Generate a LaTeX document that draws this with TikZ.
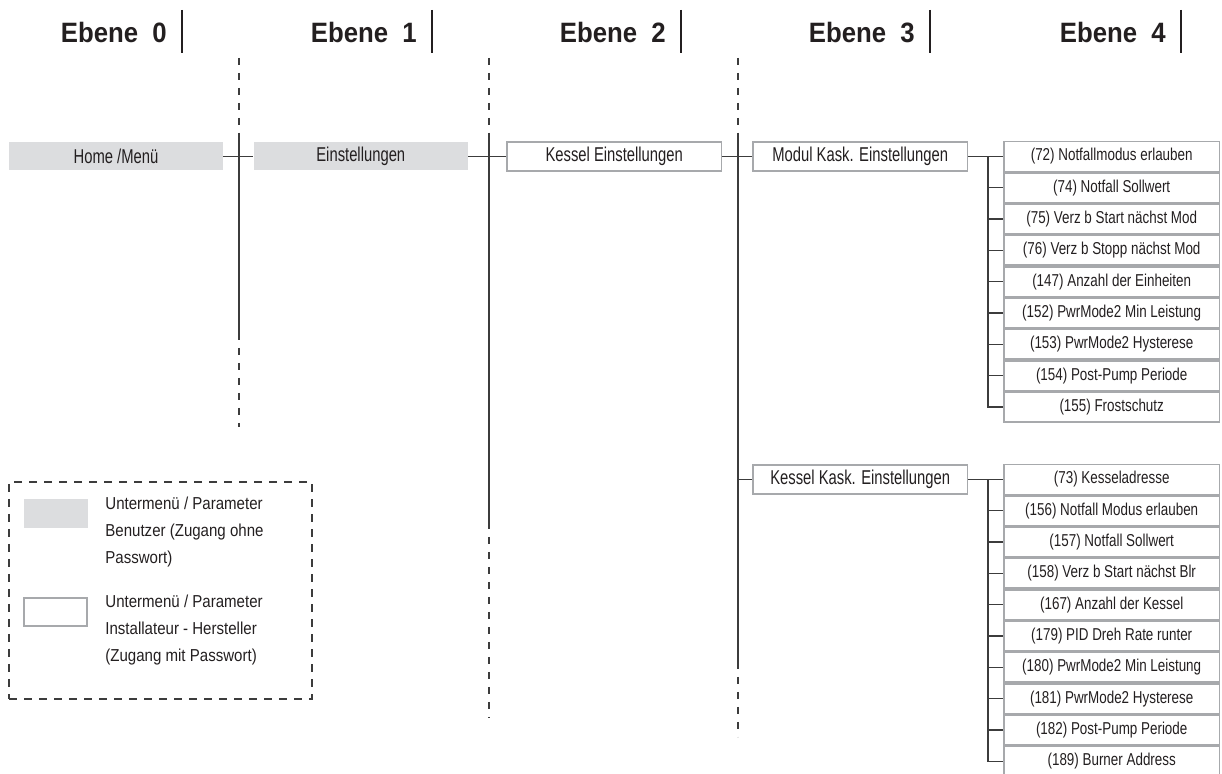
\documentclass[tikz,border=0pt]{standalone}
\usepackage{fontspec}
\setmainfont{Liberation Sans}
\newfontfamily\headfont[FakeStretch=0.92]{Liberation Sans}
\newfontfamily\boxfont[FakeStretch=0.74]{Liberation Sans}
\newfontfamily\paramfont[FakeStretch=0.78]{Liberation Sans}
\newfontfamily\legendfont[FakeStretch=0.87]{Liberation Sans}
\usetikzlibrary{positioning}

\definecolor{menugrey}{HTML}{DCDDDF}
\definecolor{framegrey}{HTML}{A7A9AC}
\definecolor{linegrey}{HTML}{3C3C3C}
\definecolor{textblack}{HTML}{231F20}

\begin{document}
\begin{tikzpicture}[
  x=0.5pt, y=-0.5pt,
  every node/.style={text=textblack},
  header/.style={
    font=\headfont\bfseries\fontsize{14}{16}\selectfont,
    inner sep=0pt,
    anchor=base east
  },
  headbar/.style={line width=1.3pt, draw=textblack},
  userbox/.style={
    fill=menugrey,
    minimum width=107pt,
    minimum height=14pt,
    inner sep=0pt,
    font=\boxfont\fontsize{10}{12}\selectfont
  },
  instbox/.style={
    draw=framegrey,
    line width=0.8pt,
    fill=white,
    minimum width=107.2pt,
    minimum height=14.7pt,
    inner sep=0pt,
    font=\boxfont\fontsize{10}{12}\selectfont
  },
  param/.style={
    draw=framegrey,
    line width=0.8pt,
    minimum width=107.7pt,
    minimum height=14.85pt,
    inner sep=0pt,
    font=\paramfont\fontsize{8.6}{10}\selectfont
  },
  link/.style={draw=linegrey, line width=0.65pt},
  trunk/.style={draw=linegrey, line width=0.8pt},
  trunkdash/.style={trunk, dash pattern=on 3.5pt off 4pt},
  legendtext/.style={
    align=left,
    anchor=west,
    inner sep=0pt,
    font=\legendfont\fontsize{8.65}{13.35}\selectfont
  }
]
\useasboundingbox (0,0) rectangle (1222,774);

% Headings
\node[header] (e0) at (167,43) {Ebene\hspace{7pt}0};
\node[header] (e1) at (417,43) {Ebene\hspace{7pt}1};
\node[header] (e2) at (666,43) {Ebene\hspace{7pt}2};
\node[header] (e3) at (915,43) {Ebene\hspace{7pt}3};
\node[header] (e4) at (1166,43) {Ebene\hspace{7pt}4};
\draw[headbar] (182,10) -- (182,53);
\draw[headbar] (432,10) -- (432,53);
\draw[headbar] (681,10) -- (681,53);
\draw[headbar] (930,10) -- (930,53);
\draw[headbar] (1181,10) -- (1181,53);

% Trunk lines
\coordinate (t1) at (239,58);
\coordinate (t2) at (489,58);
\coordinate (t3) at (738,58);
\draw[trunkdash] (t1) -- ++(0,75) coordinate (t1s);
\draw[trunk] (t1s) -- ++(0,200) coordinate (t1e);
\draw[trunkdash] (t1e) -- ++(0,94);
\draw[trunkdash] (t2) -- ++(0,75) coordinate (t2s);
\draw[trunk] (t2s) -- ++(0,389) coordinate (t2e);
\draw[trunkdash] (t2e) -- ++(0,196);
\draw[trunkdash] (t3) -- ++(0,75) coordinate (t3s);
\draw[trunk] (t3s) -- ++(0,529) coordinate (t3e);
\draw[trunkdash] (t3e) -- ++(0,75);

% Menu levels
\node[userbox] (home) at (116,156.5) {Home /Menü};
\node[userbox, right=15pt of home] (einst) {Einstellungen};
\node[instbox, right=19pt of einst] (kessel) {Kessel Einstellungen};
\node[instbox, right=15pt of kessel] (modul) {Modul Kask. Einstellungen};
\node[instbox, below=146pt of modul] (kaskade) {Kessel Kask. Einstellungen};

\draw[link] (home) -- (einst);
\draw[link] (einst) -- (kessel);
\draw[link] (kessel) -- (modul);
\draw[link] (kaskade.west -| t3) -- (kaskade.west);

% Parameters Modul Kaskade
\node[param, right=17.5pt of modul] (p72) {(72) Notfallmodus erlauben};
\node[param, below=0pt of p72] (p74) {(74) Notfall Sollwert};
\node[param, below=0pt of p74] (p75) {(75) Verz b Start nächst Mod};
\node[param, below=0pt of p75] (p76) {(76) Verz b Stopp nächst Mod};
\node[param, below=0pt of p76] (p147) {(147) Anzahl der Einheiten};
\node[param, below=0pt of p147] (p152) {(152) PwrMode2 Min Leistung};
\node[param, below=0pt of p152] (p153) {(153) PwrMode2 Hysterese};
\node[param, below=0pt of p153] (p154) {(154) Post-Pump Periode};
\node[param, below=0pt of p154] (p155) {(155) Frostschutz};

% Parameters Kessel Kaskade
\node[param, right=17.5pt of kaskade] (p73) {(73) Kesseladresse};
\node[param, below=0pt of p73] (p156) {(156) Notfall Modus erlauben};
\node[param, below=0pt of p156] (p157) {(157) Notfall Sollwert};
\node[param, below=0pt of p157] (p158) {(158) Verz b Start nächst Blr};
\node[param, below=0pt of p158] (p167) {(167) Anzahl der Kessel};
\node[param, below=0pt of p167] (p179) {(179) PID Dreh Rate runter};
\node[param, below=0pt of p179] (p180) {(180) PwrMode2 Min Leistung};
\node[param, below=0pt of p180] (p181) {(181) PwrMode2 Hysterese};
\node[param, below=0pt of p181] (p182) {(182) Post-Pump Periode};
\node[param, below=0pt of p182] (p189) {(189) Burner Address};

% Bus lines to the parameters
\coordinate (bus) at (988,0);
\draw[link] (modul) -- (p72);
\draw[link] (bus |- p72.west) |- (p155.west);
\draw[link] (kaskade) -- (p73);
\draw[link] (bus |- p73.west) |- (p189.west);
\foreach \n in {p74,p75,p76,p147,p152,p153,p154,p156,p157,p158,p167,p179,p180,p181,p182}
  \draw[link] (bus |- \n.west) -- (\n.west);

% Legend
\node[draw=linegrey, line width=0.65pt, dash pattern=on 4pt off 3.5pt,
  minimum width=151.5pt, minimum height=108.5pt] (legend) at (160.5,590.5) {};
\node[fill=menugrey, minimum width=32pt, minimum height=14.5pt, inner sep=0pt] (swuser) at (56,513.5) {};
\node[draw=framegrey, line width=0.8pt, minimum width=31.7pt, minimum height=14.2pt, inner sep=0pt] (swinst) at (55.5,612) {};
\node[legendtext] (leguser) at (105,532) {Untermenü / Parameter\\Benutzer (Zugang ohne\\Passwort)};
\node[legendtext] (leginst) at (105,630) {Untermenü / Parameter\\Installateur - Hersteller\\(Zugang mit Passwort)};

\end{tikzpicture}
\end{document}
